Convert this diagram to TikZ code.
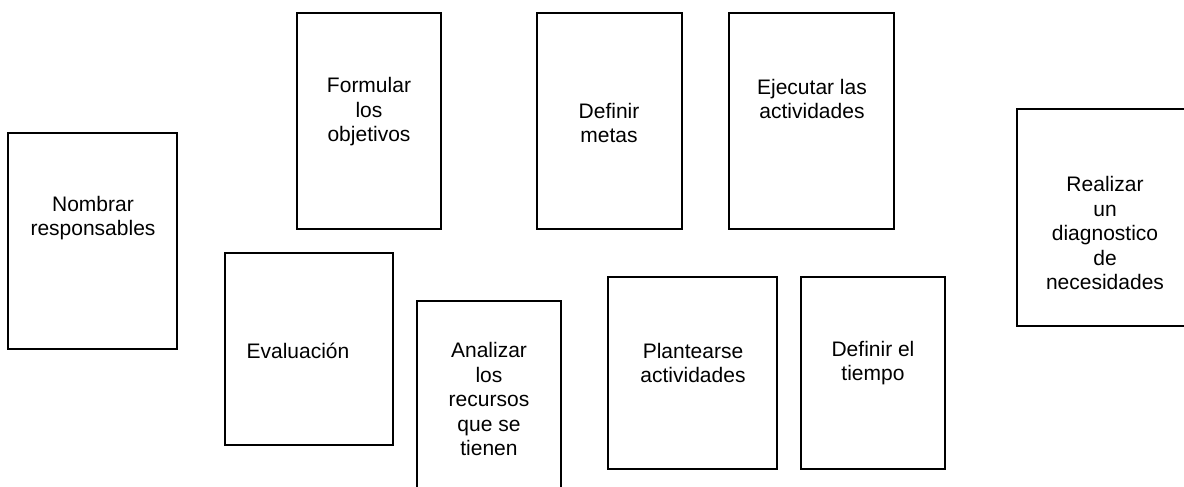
\documentclass[tikz,border=0pt]{standalone}
\usepackage{fontspec}
\setmainfont{Liberation Sans}
\usepackage{tikz}

\begin{document}
\begin{tikzpicture}[x=0.5pt, y=-0.5pt,
	caja/.style={shape=rectangle, draw, line width=1pt, inner sep=0},
	texto/.style={anchor=center, align=center, inner sep=0, font=\fontsize{10.5}{12.25}\selectfont}]
	% Frame of the page:
	\useasboundingbox (0, 0) rectangle (1184, 487);
	\clip (0, 0) rectangle (1184, 487);
	% Boxes and their texts:
	\node[caja, minimum width=84.5pt, minimum height=108pt](Rect1) at (92.5, 241){} node[texto](Txt1) at (93, 218){Nombrar\\responsables};
	\node[caja, minimum width=72pt, minimum height=108pt](Rect2) at (369, 121){} node[texto](Txt2) at (369, 112){Formular\\los\\objetivos};
	\node[caja, minimum width=72.5pt, minimum height=108pt](Rect3) at (609.5, 121){} node[texto](Txt3) at (609, 123){Definir\\metas};
	\node[caja, minimum width=82.5pt, minimum height=108pt](Rect4) at (811.5, 121){} node[texto](Txt4) at (812, 99){Ejecutar las\\actividades};
	\node[caja, minimum width=100pt, minimum height=108.5pt](Rect5) at (1117, 217.5){} node[texto](Txt5) at (1105, 233){Realizar\\un\\diagnostico\\de\\necesidades};
	\node[caja, minimum width=84pt, minimum height=96pt](Rect6) at (309, 349){} node[texto](Txt6) at (298, 351){Evaluación};
	\node[caja, minimum width=72pt, minimum height=110pt](Rect7) at (489, 411){} node[texto](Txt7) at (489, 399){Analizar\\los\\recursos\\que se\\tienen};
	\node[caja, minimum width=84.5pt, minimum height=96pt](Rect8) at (692.5, 373){} node[texto](Txt8) at (693, 363){Plantearse\\actividades};
	\node[caja, minimum width=72pt, minimum height=96pt](Rect9) at (873, 373){} node[texto](Txt9) at (873, 363){Definir el\\tiempo};
\end{tikzpicture}
\end{document}
